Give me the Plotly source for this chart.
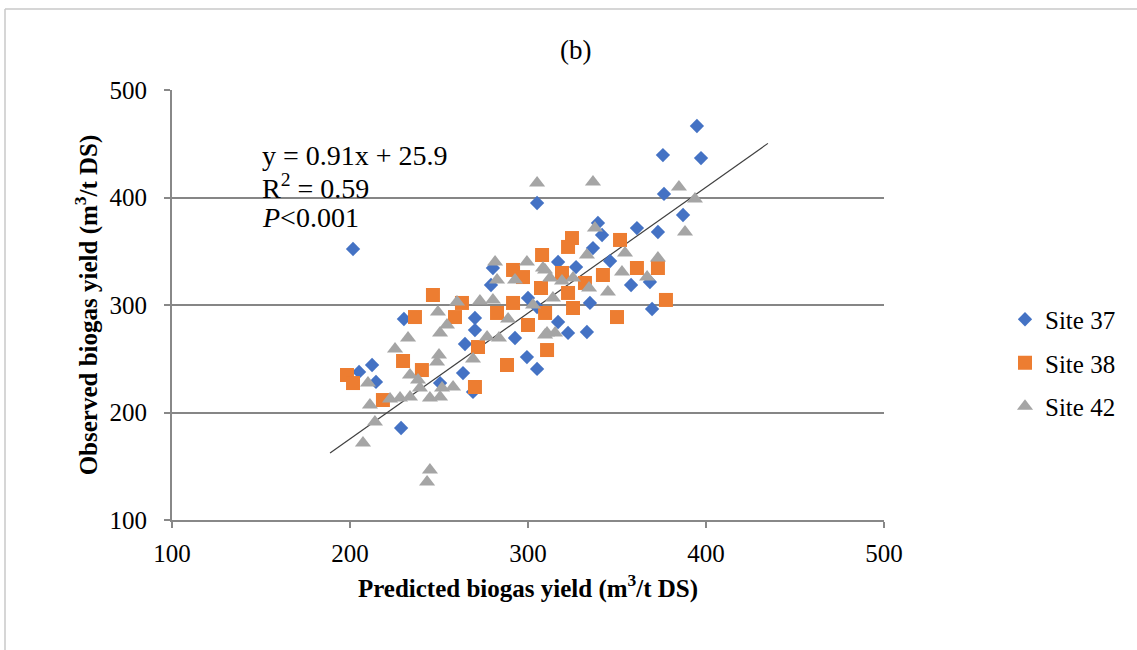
import plotly.graph_objects as go

# ---- data (predicted, observed) ----
site37_pred = [201.7, 205.1, 212.4, 214.6, 228.7, 230.3, 250.6, 264.6, 263.5, 270.2,
               270.2, 269.1, 280.3, 279.2, 300.0, 305.1, 292.7, 299.4, 305.1, 316.9,
               327.0, 316.9, 322.5, 333.1, 334.8, 336.5, 341.6, 339.3, 346.1, 361.2,
               373.0, 368.5, 357.9, 369.7, 394.9, 375.8, 397.2, 376.4, 387.1, 305.1]
site37_obs = [352.1, 237.7, 244.2, 228.4, 185.6, 287.0, 227.4, 263.7, 236.7, 287.9,
              276.7, 219.1, 334.4, 318.6, 306.5, 298.1, 269.3, 251.6, 240.5, 340.0,
              335.3, 284.2, 274.0, 274.9, 301.9, 353.0, 365.1, 376.3, 340.9, 371.6,
              367.9, 321.4, 318.6, 296.3, 466.5, 439.5, 436.7, 403.3, 383.7, 394.9]

site38_pred = [198.3, 201.7, 218.5, 229.8, 236.5, 240.4, 246.6, 259.0, 262.9, 271.9,
               270.2, 282.6, 288.2, 291.6, 291.6, 297.2, 300.0, 307.3, 307.9, 309.6,
               310.7, 319.1, 325.3, 322.5, 324.7, 332.0, 342.1, 350.0, 351.7, 361.2,
               373.0, 377.5, 322.5]
site38_obs = [234.9, 227.4, 211.6, 247.9, 288.8, 239.5, 309.3, 288.8, 301.9, 260.9,
              223.7, 292.6, 244.2, 301.9, 332.6, 326.0, 281.4, 315.8, 346.5, 292.6,
              258.1, 329.8, 297.2, 354.0, 362.3, 320.5, 327.9, 288.8, 360.5, 334.4,
              334.4, 304.7, 311.2]

site42_pred = [207.3, 214.0, 211.2, 210.1, 225.3, 232.6, 233.7, 238.2, 222.5, 228.1,
               233.7, 239.3, 244.9, 250.6, 251.7, 257.9, 249.4, 254.5, 250.6, 250.0,
               248.9, 260.1, 273.0, 280.3, 281.5, 282.6, 269.1, 277.0, 283.7, 288.8,
               292.7, 299.4, 302.8, 308.4, 312.4, 319.1, 310.7, 315.2, 309.6, 309.6,
               314.0, 325.3, 334.3, 333.1, 337.6, 336.5, 305.1, 344.9, 352.8, 354.5,
               366.9, 373.0, 384.8, 393.8, 388.2, 244.9, 243.3]
site42_obs = [171.6, 191.2, 207.0, 227.4, 259.1, 269.3, 234.9, 230.2, 212.6, 213.5,
              214.4, 222.8, 213.5, 214.4, 222.8, 223.7, 293.5, 281.4, 274.0, 253.5,
              247.0, 302.8, 303.7, 304.7, 340.0, 323.3, 249.8, 270.2, 269.3, 287.0,
              323.3, 340.0, 300.0, 334.4, 325.1, 322.3, 274.0, 274.0, 332.6, 272.1,
              306.5, 325.1, 315.8, 346.5, 371.6, 414.4, 413.5, 312.1, 330.7, 348.4,
              326.0, 343.7, 409.8, 398.6, 367.9, 146.5, 135.3]

series_names = ["Site 37", "Site 38", "Site 42"]
series_colors = ["#4472C4", "#ED7D31", "#A5A5A5"]

# drawn trend line (as it appears in the figure)
trend_x = [188.8, 434.8]
trend_slope = 1.171
trend_intercept = -58.8

eq_lines = ["y = 0.91x + 25.9", "R<sup>2</sup> = 0.59", "<i>P</i>&lt;0.001"]
eq_y = [439.5, 410.7, 381.0]

x_ticks = [100, 200, 300, 400, 500]
y_ticks = [100, 200, 300, 400, 500]

FONT = "Liberation Serif"

fig = go.Figure()

fig.add_trace(go.Scatter(
    x=trend_x, y=[trend_slope * v + trend_intercept for v in trend_x],
    mode="lines", line=dict(color="#404040", width=1.2),
    showlegend=False, hoverinfo="skip"))

symbols = ["diamond", "square", "triangle-up"]
sizes = [11, 14, 14]
for name, color, sym, sz, xs, ys in zip(series_names, series_colors, symbols, sizes,
                                        [site37_pred, site38_pred, site42_pred],
                                        [site37_obs, site38_obs, site42_obs]):
    fig.add_trace(go.Scatter(
        x=xs, y=ys, mode="markers", name=name, legendgroup=name,
        marker=dict(symbol=sym, size=sz, color=color, line=dict(width=0))))

for t, yv in zip(eq_lines, eq_y):
    fig.add_annotation(x=149.4, y=yv, xref="x", yref="y",
                       text=t, showarrow=False, xanchor="left", yanchor="middle",
                       font=dict(family=FONT, size=28, color="black"))

fig.add_annotation(x=(575 - 172) / 712, y=(520 - 50) / 430, xref="paper", yref="paper",
                   text="(b)", showarrow=False, xanchor="center", yanchor="middle",
                   font=dict(family=FONT, size=27, color="black"))

# outer chart border (left and top visible)
fig.add_shape(type="line", xref="paper", yref="paper",
              x0=(5 - 172) / 712, x1=(5 - 172) / 712, y0=(520 - 9) / 430, y1=(520 - 660) / 430,
              line=dict(color="#c8c8c8", width=1.5))
fig.add_shape(type="line", xref="paper", yref="paper",
              x0=(5 - 172) / 712, x1=(1150 - 172) / 712, y0=(520 - 9) / 430, y1=(520 - 9) / 430,
              line=dict(color="#c8c8c8", width=1.5))

fig.update_layout(
    width=1137, height=650,
    margin=dict(l=172, r=253, t=90, b=130),
    paper_bgcolor="white", plot_bgcolor="white",
    font=dict(family=FONT, size=25, color="black"),
    showlegend=True,
    legend=dict(x=(1005 - 172) / 712, y=(520 - 363) / 430, xanchor="left", yanchor="middle",
                font=dict(family=FONT, size=25, color="black"),
                tracegroupgap=8, bgcolor="rgba(0,0,0,0)"),
    xaxis=dict(range=[100, 500], tickvals=x_ticks, showgrid=False, zeroline=False,
               showline=True, linecolor="#888888", linewidth=2,
               ticks="outside", ticklen=6, tickcolor="#888888", tickwidth=2,
               ticklabelstandoff=4,
               tickfont=dict(family=FONT, size=25, color="black"),
               title=dict(text="<b>Predicted biogas yield (m<sup>3</sup>/t DS)</b>",
                          font=dict(family=FONT, size=25, color="black"), standoff=13)),
    yaxis=dict(range=[100, 500], tickvals=y_ticks, showgrid=True, gridcolor="#868686",
               gridwidth=2, zeroline=False,
               showline=True, linecolor="#888888", linewidth=2,
               ticks="outside", ticklen=6, tickcolor="#888888", tickwidth=2,
               ticklabelstandoff=12,
               tickfont=dict(family=FONT, size=25, color="black"),
               title=dict(text="<b>Observed biogas yield (m<sup>3</sup>/t DS)</b>",
                          font=dict(family=FONT, size=25, color="black"), standoff=5)),
)

fig.write_html("out.html")
